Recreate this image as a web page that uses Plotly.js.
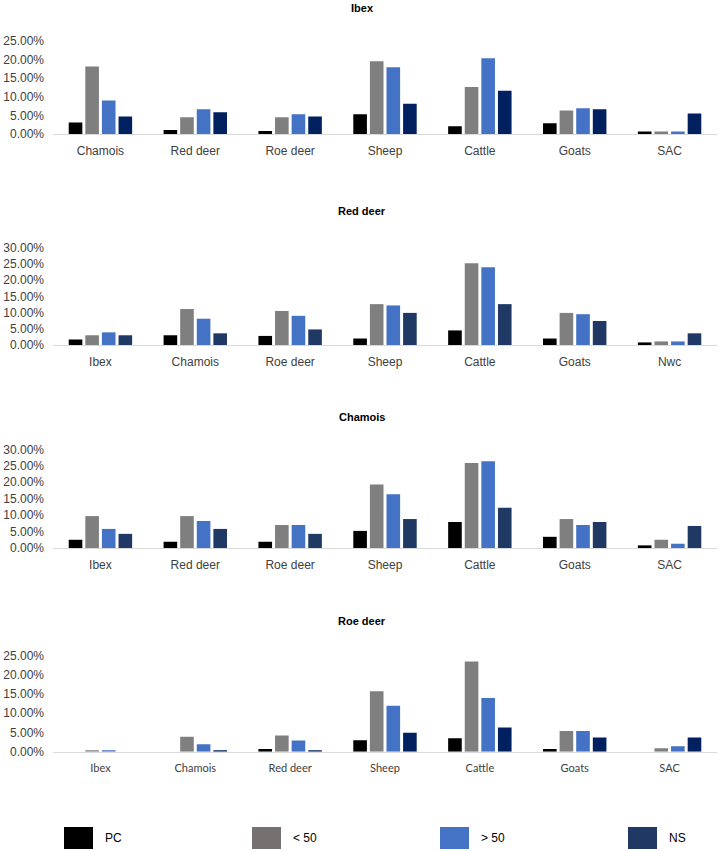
<!DOCTYPE html>
<html>
<head>
<meta charset="utf-8">
<script src="https://cdn.plot.ly/plotly-3.0.1.min.js"></script>
<style>
  html, body { margin: 0; padding: 0; background: #fff; }
  #chart { width: 720px; height: 851px; }
</style>
</head>
<body>
<div id="chart"></div>
<script>
// ---------- DATA (percent values) ----------
const seriesNames = ['PC', '< 50', '> 50', 'NS'];

const panelTitles = ['Ibex', 'Red deer', 'Chamois', 'Roe deer'];

const ibexCats    = ['Chamois', 'Red deer', 'Roe deer', 'Sheep', 'Cattle', 'Goats', 'SAC'];
const ibexPC      = [3.1, 1.1, 0.8, 5.3, 2.1, 2.9, 0.7];
const ibexLt50    = [18.1, 4.5, 4.5, 19.5, 12.6, 6.3, 0.7];
const ibexGt50    = [9.0, 6.6, 5.3, 17.9, 20.3, 6.9, 0.7];
const ibexNS      = [4.7, 5.8, 4.7, 8.1, 11.6, 6.6, 5.5];

const redCats     = ['Ibex', 'Chamois', 'Roe deer', 'Sheep', 'Cattle', 'Goats', 'Nwc'];
const redPC       = [1.7, 3.0, 2.8, 2.0, 4.5, 2.0, 0.8];
const redLt50     = [3.0, 11.1, 10.5, 12.6, 25.2, 9.9, 1.1];
const redGt50     = [3.9, 8.1, 9.0, 12.2, 24.0, 9.5, 1.1];
const redNS       = [3.0, 3.6, 4.8, 9.9, 12.6, 7.4, 3.6];

const chamCats    = ['Ibex', 'Red deer', 'Roe deer', 'Sheep', 'Cattle', 'Goats', 'SAC'];
const chamPC      = [2.5, 1.9, 1.9, 5.2, 7.9, 3.4, 0.8];
const chamLt50    = [9.7, 9.7, 7.0, 19.3, 25.8, 8.8, 2.5];
const chamGt50    = [5.8, 8.2, 7.0, 16.3, 26.4, 7.0, 1.3];
const chamNS      = [4.3, 5.8, 4.3, 8.8, 12.2, 7.9, 6.7];

const roeCats     = ['Ibex', 'Chamois', 'Red deer', 'Sheep', 'Cattle', 'Goats', 'SAC'];
const roePC       = [0, 0, 0.7, 3.0, 3.5, 0.7, 0];
const roeLt50     = [0.4, 3.9, 4.2, 15.7, 23.4, 5.4, 0.9];
const roeGt50     = [0.4, 1.9, 2.9, 11.9, 13.9, 5.4, 1.4];
const roeNS       = [0, 0.35, 0.35, 4.9, 6.3, 3.7, 3.7];

const yMax   = [25, 30, 30, 25];
const yTicks = [[0,5,10,15,20,25],[0,5,10,15,20,25,30],[0,5,10,15,20,25,30],[0,5,10,15,20,25]];

// ---------- STYLE ----------
const W = 720, H = 851;
const colPC = '#000000', colLt = '#7f7f7f', colGt = '#4472c4';
const navyDark = '#002060', navyMid = '#203864';
const legendColors = ['#000000', '#767171', '#4472c4', '#203864'];

const panels = [
  {cats: ibexCats, vals: [ibexPC, ibexLt50, ibexGt50, ibexNS], navy: navyDark, zero: 134, top: 40.7, titleY: 8, xfont: 'Liberation Sans', xsize: 12},
  {cats: redCats,  vals: [redPC, redLt50, redGt50, redNS],     navy: navyMid,  zero: 345, top: 247.7, titleY: 211, xfont: 'Liberation Sans', xsize: 12},
  {cats: chamCats, vals: [chamPC, chamLt50, chamGt50, chamNS], navy: navyMid,  zero: 548, top: 449.3, titleY: 417, xfont: 'Liberation Sans', xsize: 12},
  {cats: roeCats,  vals: [roePC, roeLt50, roeGt50, roeNS],     navy: navyDark, zero: 751.7, top: 655.3, titleY: 621, xfont: 'Lato', xsize: 11}
];

const px2x = p => p / W;
const px2y = p => 1 - p / H;

const data = [];
const layout = {
  width: W, height: H,
  margin: {l: 0, r: 0, t: 0, b: 0},
  paper_bgcolor: '#ffffff', plot_bgcolor: '#ffffff',
  barmode: 'group', bargap: 0.3, bargroupgap: 0.18,
  showlegend: false,
  font: {family: 'Liberation Sans, Arial, sans-serif', color: '#595959', size: 12},
  annotations: [], shapes: []
};

panels.forEach((p, i) => {
  const n = i === 0 ? '' : String(i + 1);
  const colors = [colPC, colLt, colGt, p.navy];
  p.vals.forEach((v, s) => {
    data.push({
      type: 'bar', name: seriesNames[s], x: p.cats, y: v,
      xaxis: 'x' + n, yaxis: 'y' + n,
      marker: {color: colors[s], line: {width: 0}},
      hoverinfo: 'x+y+name'
    });
  });
  layout['xaxis' + n] = {
    domain: [px2x(53), px2x(717)], anchor: 'y' + n,
    type: 'category', showline: true, linecolor: '#d9d9d9', linewidth: 1,
    showgrid: false, zeroline: false, ticks: '', ticklabelstandoff: 6,
    tickfont: {family: p.xfont, size: p.xsize, color: '#404040'},
    fixedrange: true
  };
  layout['yaxis' + n] = {
    domain: [px2y(p.zero), px2y(p.top)], anchor: 'x' + n,
    range: [0, yMax[i]], tickmode: 'array', tickvals: yTicks[i],
    ticktext: yTicks[i].map(v => v.toFixed(2) + '%'),
    showgrid: false, zeroline: false, showline: false, ticks: '', ticklabelstandoff: 8,
    tickfont: {family: 'Liberation Sans, Arial, sans-serif', size: 12, color: '#404040'},
    fixedrange: true
  };
  layout.annotations.push({
    text: '<b>' + panelTitles[i] + '</b>', xref: 'paper', yref: 'paper',
    x: px2x(362), y: px2y(p.titleY), xanchor: 'center', yanchor: 'middle',
    showarrow: false, font: {family: 'Liberation Sans, Arial, sans-serif', size: 11, color: '#000000'}
  });
});

// legend (drawn manually with large squares)
const legSq = [64, 252, 440, 628];
legSq.forEach((x0, k) => {
  layout.shapes.push({
    type: 'rect', xref: 'paper', yref: 'paper',
    x0: px2x(x0), x1: px2x(x0 + 29), y0: px2y(849), y1: px2y(827),
    fillcolor: legendColors[k], line: {width: 0}
  });
  layout.annotations.push({
    text: seriesNames[k], xref: 'paper', yref: 'paper',
    x: px2x(x0 + 39), y: px2y(838), xanchor: 'left', yanchor: 'middle',
    showarrow: false, font: {family: 'Liberation Sans Narrow, Liberation Sans, Arial, sans-serif', size: 12, color: '#000000'}
  });
});

Plotly.newPlot('chart', data, layout, {displayModeBar: false, staticPlot: true});
</script>
</body>
</html>
